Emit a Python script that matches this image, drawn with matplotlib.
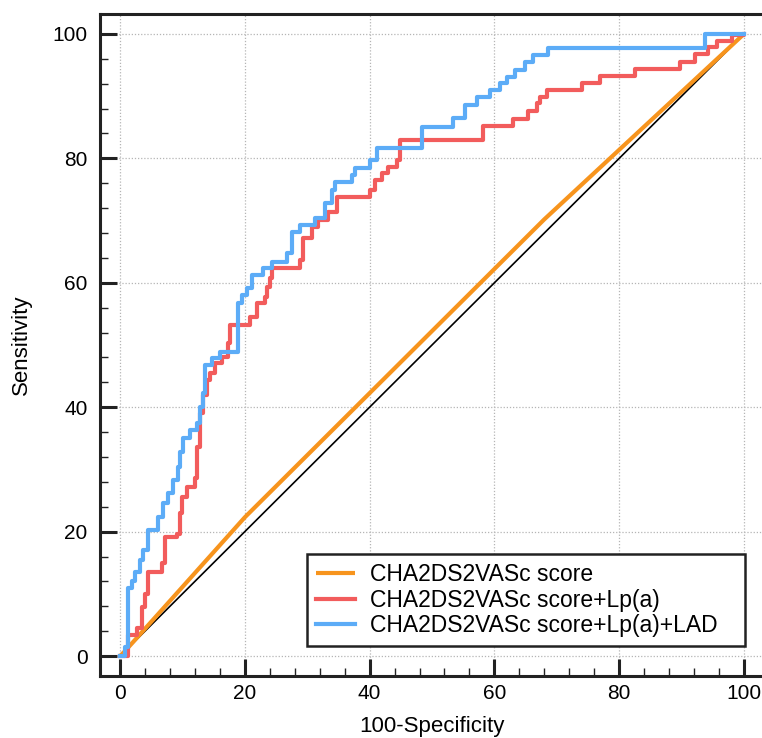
import matplotlib
matplotlib.use("Agg")
import matplotlib.pyplot as plt
from matplotlib.ticker import MultipleLocator

plt.rcParams['font.family'] = ['Liberation Sans', 'DejaVu Sans']

# ---- data ----
labels = ["CHA2DS2VASc score", "CHA2DS2VASc score+Lp(a)", "CHA2DS2VASc score+Lp(a)+LAD"]

fpr_score = [0, 0.8, 20, 68, 100]
tpr_score = [0, 0.8, 22.3, 70.2, 100]

fpr_lpa = [0, 0.8, 1.3, 2.7, 3.5, 4.0, 4.5, 6.7, 7.2, 9.1, 9.6, 9.9, 10.7, 12.0, 12.3,
           12.8, 13.3, 13.9, 14.4, 15.2, 16.3, 17.3, 17.6, 20.3, 20.8, 22.0, 23.2, 23.6,
           24.0, 24.4, 27.7, 28.8, 29.3, 30.8, 31.7, 33.3, 34.8, 38.5, 40.1, 40.9, 42.0,
           42.9, 44.4, 44.9, 44.9, 58.2, 58.2, 62.8, 63.0, 65.2, 65.4, 66.8, 67.3, 68.4,
           73.7, 74.0, 76.6, 76.9, 82.5, 82.5, 89.4, 89.7, 91.8, 92.1, 94.0, 94.2, 95.5,
           95.7, 98.1, 98.1, 100]
tpr_lpa = [0, 0, 3.4, 4.5, 7.9, 10, 13.5, 14.9, 19.1, 19.7, 23, 25.6, 27.2, 28.6, 33.6,
           39, 42, 44.4, 45.5, 47.1, 48.1, 50.3, 53.2, 53.2, 54.5, 56.7, 57.7, 59.3,
           60.8, 62.4, 62.4, 63.7, 67.2, 69, 70.1, 71.4, 73.8, 73.8, 74.9, 76.5, 77.7,
           78.6, 79.7, 81.4, 83, 83, 85.2, 85.2, 86.3, 86.3, 87.6, 88.9, 89.9, 91,
           91, 92.1, 92.1, 93.2, 93.2, 94.4, 94.4, 95.5, 95.5, 96.8, 96.8, 97.9, 97.9,
           98.9, 98.9, 99.8, 100]

fpr_lad = [0, 0.8, 1.3, 1.9, 2.4, 3.2, 3.7, 4.5, 6.1, 6.9, 7.7, 8.5, 9.3, 9.6, 10.1,
           11.2, 12.3, 12.8, 13.3, 13.6, 14.7, 16.0, 18.4, 18.9, 19.5, 20.3, 21.2, 22.9,
           24.4, 26.8, 27.6, 28.8, 31.3, 32.9, 34.0, 34.5, 37.2, 37.7, 40.1, 41.2, 48.1,
           48.4, 53.4, 55.3, 57.2, 59.3, 60.9, 62.0, 63.3, 64.9, 66.2, 68.6, 92.1, 93.8,
           93.8, 100]
tpr_lad = [0, 1.5, 11, 12, 13.5, 15.4, 17, 20.3, 22.4, 24.6, 26.2, 28.3, 30.4, 32.8, 35,
           36.3, 37.5, 40, 42.3, 46.8, 47.9, 48.9, 48.9, 56.7, 58, 59.2, 61.3, 62.4,
           63.3, 64.8, 68.2, 69.3, 70.4, 72.8, 74.9, 76.2, 77.3, 78.4, 79.7, 81.7, 81.7,
           85, 86.5, 88.6, 89.9, 91, 92.1, 93.1, 94.2, 95.5, 96.6, 97.7, 97.7, 99,
           100, 100]

ref_line = [0, 100]

xticks = [0, 20, 40, 60, 80, 100]
yticks = [0, 20, 40, 60, 80, 100]

c_score = "#F7941D"
c_lpa = "#F25C5C"
c_lad = "#5CACF7"

fig = plt.figure(figsize=(7.62, 7.38), dpi=100)
ax = fig.add_axes([100/762, 1 - 676/738, 664/762, 662/738])

ax.plot(ref_line, ref_line, color="black", lw=1.2, zorder=2)
ax.plot(fpr_score, tpr_score, color=c_score, lw=3, zorder=3, label=labels[0],
        solid_capstyle='butt')
ax.plot(fpr_lpa, tpr_lpa, color=c_lpa, lw=3, zorder=4, drawstyle='steps-post',
        label=labels[1])
ax.plot(fpr_lad, tpr_lad, color=c_lad, lw=3, zorder=5, drawstyle='steps-post',
        label=labels[2])

ax.set_xlim(-3.2, 103.2)
ax.set_ylim(-3.2, 103.2)
ax.set_xticks(xticks)
ax.set_yticks(yticks)
ax.xaxis.set_minor_locator(MultipleLocator(4))
ax.yaxis.set_minor_locator(MultipleLocator(4))
ax.grid(True, which='major', color="#b5b5b5", linestyle=(0, (1, 1.5)), lw=0.9, zorder=0)

for s in ['left', 'bottom', 'top', 'right']:
    ax.spines[s].set_linewidth(2.2)
    ax.spines[s].set_color("#222222")
ax.spines['right'].set_visible(False)

ax.tick_params(which='major', direction='in', length=12, width=2.2, color="#222222",
               labelsize=15, top=False, right=False)
ax.tick_params(which='minor', direction='in', length=6, width=1, color="#222222",
               top=False, right=False)
ax.tick_params(axis='y', which='major', pad=9)
ax.tick_params(axis='x', which='major', pad=6)

ax.set_xlabel("100-Specificity", fontsize=16, labelpad=9)
ax.set_ylabel("Sensitivity", fontsize=16, labelpad=15)

leg = ax.legend(loc='lower left', bbox_to_anchor=(0.3117, 0.0453, 0.6597, 0.1375),
                mode='expand', borderaxespad=0,
                fancybox=False, fontsize=16.5, handlelength=1.7, handletextpad=0.65,
                labelspacing=0.1, borderpad=0.4, framealpha=1)
leg.get_frame().set_edgecolor("#222222")
leg.get_frame().set_linewidth(1.8)

fig.savefig("out.png", dpi=100)
